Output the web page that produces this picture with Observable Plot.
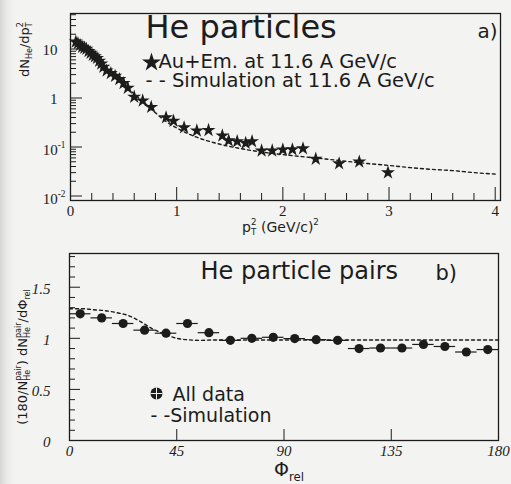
<!DOCTYPE html>
<html>
<head>
<meta charset="utf-8">
<script src="https://cdn.jsdelivr.net/npm/d3@7"></script>
<script src="https://cdn.jsdelivr.net/npm/@observablehq/plot@0.6"></script>
<style>
  body { margin: 0; background: linear-gradient(to right, #d6d6d4 0px, #e8e8e6 6px, #f3f3f1 14px); }
  #c { width: 511px; }
  #c svg { display: block; }
</style>
</head>
<body>
<div id="c"></div>
<script>
// ---------- Panel a) data ----------
const starPt2 = [0.05,0.07,0.09,0.11,0.13,0.15,0.17,0.19,0.21,0.23,0.25,0.27,0.29,0.31,0.34,0.38,0.42,0.46,0.50,0.54,0.60,0.68,0.76,0.90,0.97,1.07,1.19,1.30,1.43,1.49,1.57,1.65,1.71,1.80,1.90,2.00,2.09,2.19,2.31,2.53,2.72,2.99];
const starDN  = [14,13,12,11,10.5,10,9,8.3,7.5,7,6.5,5.7,5,4.3,3.6,3.2,2.8,2.4,2.0,1.6,1.05,0.88,0.65,0.40,0.34,0.25,0.215,0.22,0.17,0.135,0.13,0.12,0.13,0.084,0.084,0.088,0.089,0.093,0.057,0.046,0.05,0.030];
const simPt2  = [0.03,0.1,0.2,0.3,0.4,0.5,0.6,0.7,0.8,0.9,1.0,1.1,1.2,1.4,1.6,1.8,2.0,2.2,2.4,2.6,2.8,3.0,3.2,3.4,3.6,3.8,4.0];
const simDN   = [15,12,7.8,4.8,3.0,1.9,1.2,0.78,0.5,0.33,0.245,0.19,0.155,0.115,0.093,0.079,0.07,0.063,0.057,0.051,0.046,0.042,0.038,0.035,0.033,0.030,0.028];
const xTicksA = [0,1,2,3,4];
const xTickLabelsA = ["0","1","2","3","4"];
const yPlainTicksA = [10,1];
const yPlainLabelsA = ["10","1"];
const yPowTicksA = [0.1,0.01];
const yPowLabelsA = ["10^-1","10^-2"];

// ---------- Panel b) data ----------
const phiBins  = [4.5,13.5,22.5,31.5,40.5,49.5,58.5,67.5,76.5,85.5,94.5,103.5,112.5,121.5,130.5,139.5,148.5,157.5,166.5,175.5];
const binHalf  = 4.5;
const pairVals = [1.24,1.20,1.145,1.08,1.05,1.145,1.055,0.98,1.0,1.01,0.997,0.987,0.98,0.90,0.905,0.905,0.94,0.92,0.866,0.89];
const simPhi   = [0,5,10,15,20,25,30,35,40,45,50,55,60,90,120,150,180];
const simPair  = [1.29,1.29,1.28,1.27,1.25,1.22,1.16,1.09,1.04,1.0,0.985,0.98,0.983,0.983,0.983,0.983,0.983];
const xTicksB = [0,45,90,135,180];
const xTickLabelsB = ["0","45","90","135","180"];
const yTicksB = [0,0.5,1,1.5];
const yTickLabelsB = ["0","0.5","1","1.5"];

// ---------- text ----------
const titleA = "He particles", tagA = "a)";
const legStarA = "Au+Em. at 11.6 A GeV/c";
const legSimA = "- - Simulation at 11.6 A GeV/c";
const xLabelA = "p_T^2 (GeV/c)^2";
const yLabelA = "dN_He/dp_T^2";
const titleB = "He particle pairs", tagB = "b)";
const legDataB = "All data", legSimB = "- -Simulation";
const xLabelB = "Φ_rel";
const yLabelB = "(180/N_He^pair) dN_He^pair/dΦ_rel";

const rich = {
  [yLabelA]: [{t:"dN"},{t:"He",k:"sub"},{t:"/dp"},{t:"T",k:"sub"},{t:"2",k:"sup",stack:true}],
  [xLabelA]: [{t:"p"},{t:"T",k:"sub"},{t:"2",k:"sup",stack:true},{t:" (GeV/c)"},{t:"2",k:"sup"}],
  [yLabelB]: [{t:"(180/N"},{t:"pair",k:"sup"},{t:"He",k:"sub",stack:true},{t:") dN"},{t:"pair",k:"sup"},{t:"He",k:"sub",stack:true},{t:"/dΦ"},{t:"rel",k:"sub"}],
  [xLabelB]: [{t:"Φ"},{t:"rel",k:"sub"}],
  "10^-1": [{t:"10"},{t:"-1",k:"sup"}],
  "10^-2": [{t:"10"},{t:"-2",k:"sup"}]
};

const ink = "#1c1c1c";
const sans = "'DejaVu Sans', sans-serif";
const serif = "'Liberation Serif', 'DejaVu Serif', serif";

const tableStars = starPt2.map((x,i)=>({x, y: starDN[i]}));
const tableSimA = simPt2.map((x,i)=>({x, y: simDN[i]}));
const tablePairs = phiBins.map((x,i)=>({x, y: pairVals[i]}));
const tableSimB = simPhi.map((x,i)=>({x, y: simPair[i]}));

// minor ticks from the library's scales
const minorXA = d3.scaleLinear().domain([0,4]).ticks(20).filter(v=>!xTicksA.includes(v));
const minorYA = d3.scaleLog().domain([0.01,53]).ticks().filter(v=>![0.01,0.1,1,10].includes(v));
const minorXB = d3.scaleLinear().domain([0,180]).ticks(20).filter(v=>v%9===0 && !xTicksB.includes(v));
const minorYB = d3.scaleLinear().domain([0,1.8]).ticks(18).filter(v=>!yTicksB.includes(v));

const HA = 240, TA = 13, BA = 40, LA = 70, RA = 11;
const innerHA = HA - TA - BA, innerWA = 511 - LA - RA;

const plotA = Plot.plot({
  width: 511, height: HA, marginTop: TA, marginBottom: BA, marginLeft: LA, marginRight: RA,
  x: {domain: [0, 4.05], axis: null},
  y: {type: "log", domain: [0.0081, 53], axis: null},
  style: {background: "transparent", color: ink},
  marks: [
    Plot.ruleX(xTicksA, {x: d=>d, insetTop: innerHA - 13, stroke: ink}),
    Plot.ruleX(minorXA, {x: d=>d, insetTop: innerHA - 7, stroke: ink}),
    Plot.ruleY([0.01,0.1,1,10], {y: d=>d, insetRight: innerWA - 12, stroke: ink}),
    Plot.ruleY(minorYA, {y: d=>d, insetRight: innerWA - 6, stroke: ink}),
    Plot.frame({stroke: ink, strokeWidth: 1.3}),
    Plot.line(tableSimA, {x: "x", y: "y", stroke: ink, strokeWidth: 1.4, strokeDasharray: "3,3", curve: "monotone-x"}),
    Plot.dot(tableStars, {x: "x", y: "y", symbol: "star", r: 4.4, fill: ink}),
    Plot.text(xTicksA, {x: d=>d, frameAnchor: "bottom", dy: 11, lineAnchor: "middle", textAnchor: "middle", text: (d,i)=>xTickLabelsA[i], fontFamily: serif, fontSize: 15, fill: ink}),
    Plot.text(yPlainTicksA, {y: d=>d, frameAnchor: "left", dx: -13, dy: 1, lineAnchor: "middle", textAnchor: "end", text: (d,i)=>yPlainLabelsA[i], fontFamily: serif, fontSize: 15, fill: ink}),
    Plot.text(yPowTicksA, {y: d=>d, frameAnchor: "left", dx: -5, dy: 3, lineAnchor: "middle", textAnchor: "end", text: (d,i)=>yPowLabelsA[i], fontFamily: serif, fontSize: 15, fill: ink}),
    Plot.text([xLabelA], {frameAnchor: "bottom", dx: -5, dy: 31, lineAnchor: "bottom", textAnchor: "middle", text: d=>d, fontFamily: sans, fontSize: 14, fill: ink}),
    Plot.text([yLabelA], {frameAnchor: "top-left", dx: -46, dy: 36, rotate: -90, lineAnchor: "middle", textAnchor: "middle", text: d=>d, fontFamily: sans, fontSize: 13, fill: ink}),
    Plot.text([titleA], {frameAnchor: "top-left", dx: 75, dy: 24, lineAnchor: "bottom", textAnchor: "start", text: d=>d, fontFamily: sans, fontSize: 32, fill: ink}),
    Plot.text([tagA], {frameAnchor: "top-left", dx: 407, dy: 24, lineAnchor: "bottom", textAnchor: "start", text: d=>d, fontFamily: sans, fontSize: 20, fill: ink}),
    Plot.dot([0], {frameAnchor: "top-left", dx: 81, dy: 49, symbol: "star", r: 6, fill: ink}),
    Plot.text([legStarA], {frameAnchor: "top-left", dx: 88, dy: 54, lineAnchor: "bottom", textAnchor: "start", text: d=>d, fontFamily: sans, fontSize: 19.5, fill: ink}),
    Plot.text([legSimA], {frameAnchor: "top-left", dx: 75, dy: 73, lineAnchor: "bottom", textAnchor: "start", text: d=>d, fontFamily: sans, fontSize: 19.5, fill: ink})
  ]
});

const HB = 244, TB = 13, BB = 44, LB = 69, RB = 13;
const innerHB = HB - TB - BB, innerWB = 511 - LB - RB;

const plotB = Plot.plot({
  width: 511, height: HB, marginTop: TB, marginBottom: BB, marginLeft: LB, marginRight: RB,
  x: {domain: [0, 180], axis: null},
  y: {domain: [0, 1.83], axis: null},
  style: {background: "transparent", color: ink},
  marks: [
    Plot.ruleX(xTicksB, {x: d=>d, insetTop: innerHB - 11, stroke: ink}),
    Plot.ruleX(minorXB, {x: d=>d, insetTop: innerHB - 6, stroke: ink}),
    Plot.ruleY(yTicksB, {y: d=>d, insetRight: innerWB - 11, stroke: ink}),
    Plot.ruleY(minorYB, {y: d=>d, insetRight: innerWB - 6, stroke: ink}),
    Plot.frame({stroke: ink, strokeWidth: 1.3}),
    Plot.line(tableSimB, {x: "x", y: "y", stroke: ink, strokeWidth: 1.4, strokeDasharray: "3,3", curve: "monotone-x"}),
    Plot.ruleY(tablePairs, {y: "y", x1: d=>d.x - binHalf, x2: d=>d.x + binHalf, stroke: ink, strokeWidth: 1.2}),
    Plot.dot(tablePairs, {x: "x", y: "y", r: 4.6, fill: ink}),
    Plot.text(xTicksB, {x: d=>d, frameAnchor: "bottom", dy: 11, lineAnchor: "middle", textAnchor: "middle", text: (d,i)=>xTickLabelsB[i], fontFamily: serif, fontStyle: "italic", fontSize: 15, fill: ink}),
    Plot.text(yTicksB, {y: d=>d, frameAnchor: "left", dx: -19, dy: 2, lineAnchor: "middle", textAnchor: "end", text: (d,i)=>yTickLabelsB[i], fontFamily: serif, fontStyle: "italic", fontSize: 15, fill: ink}),
    Plot.text([xLabelB], {frameAnchor: "bottom", dx: 5, dy: 35, lineAnchor: "bottom", textAnchor: "middle", text: d=>d, fontFamily: sans, fontSize: 19, fill: ink}),
    Plot.text([yLabelB], {frameAnchor: "left", dx: -47, dy: 10, rotate: -90, lineAnchor: "middle", textAnchor: "middle", text: d=>d, fontFamily: sans, fontSize: 13, fill: ink}),
    Plot.text([titleB], {frameAnchor: "top-left", dx: 131, dy: 25, lineAnchor: "bottom", textAnchor: "start", text: d=>d, fontFamily: sans, fontSize: 24, fill: ink}),
    Plot.text([tagB], {frameAnchor: "top-left", dx: 366, dy: 26, lineAnchor: "bottom", textAnchor: "start", text: d=>d, fontFamily: sans, fontSize: 21, fill: ink}),
    Plot.dot([0], {frameAnchor: "top-left", dx: 87, dy: 140, r: 6, fill: ink}),
    Plot.dot([0], {frameAnchor: "top-left", dx: 87, dy: 140, r: 4, symbol: "plus", stroke: "#f3f3f1", strokeWidth: 1}),
    Plot.text([legDataB], {frameAnchor: "top-left", dx: 103, dy: 147, lineAnchor: "bottom", textAnchor: "start", text: d=>d, fontFamily: sans, fontSize: 19, fill: ink}),
    Plot.text([legSimB], {frameAnchor: "top-left", dx: 81, dy: 168, lineAnchor: "bottom", textAnchor: "start", text: d=>d, fontFamily: sans, fontSize: 19, fill: ink})
  ]
});

const host = document.getElementById("c");
host.appendChild(plotA);
host.appendChild(plotB);

const NS = "http://www.w3.org/2000/svg";
function richify(svg) {
  for (const t of svg.querySelectorAll("text")) {
    const segs = rich[t.textContent];
    if (!segs) continue;
    const fs = parseFloat(getComputedStyle(t).fontSize) || 14;
    t.textContent = "";
    let shift = 0, prevW = 0, pending = 0;
    for (const s of segs) {
      const sp = document.createElementNS(NS, "tspan");
      sp.textContent = s.t;
      const k = s.k || "n";
      const target = k === "sub" ? fs * 0.28 : k === "sup" ? -fs * 0.45 : 0;
      sp.setAttribute("dy", (target - shift).toFixed(2));
      shift = target;
      if (k !== "n") sp.setAttribute("font-size", (fs * 0.62).toFixed(2));
      let dx = 0;
      if (s.stack) dx = -prevW; else dx = pending;
      if (dx) sp.setAttribute("dx", dx.toFixed(2));
      t.appendChild(sp);
      const w = sp.getComputedTextLength();
      pending = s.stack ? Math.max(0, prevW - w) : 0;
      prevW = w;
    }
  }
}
richify(plotA);
richify(plotB);
</script>
</body>
</html>
